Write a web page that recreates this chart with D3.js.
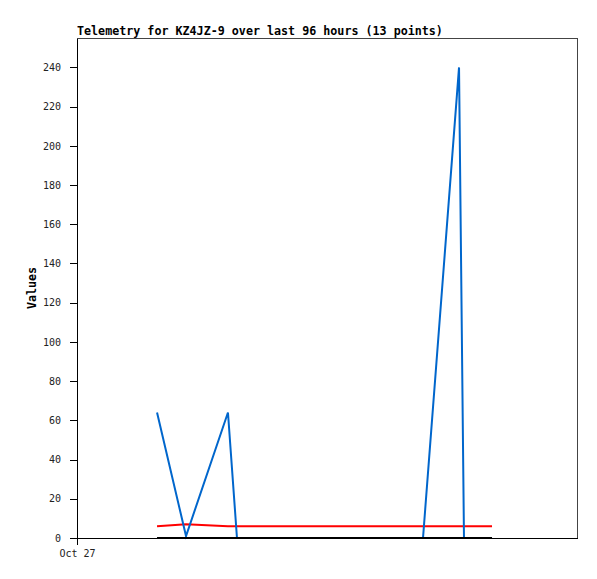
<!DOCTYPE html>
<html>
<head>
<meta charset="utf-8">
<script src="https://cdn.jsdelivr.net/npm/d3@7"></script>
<style>
  html, body { margin: 0; padding: 0; background: #fff; }
  svg { display: block; }
</style>
</head>
<body>
<svg id="chart" width="597" height="579"></svg>
<script>
// ---- data ----
const title = "Telemetry for KZ4JZ-9 over last 96 hours (13 points)";
const yLabel = "Values";
const times = [
  "2023-10-27T15:22", "2023-10-27T20:56", "2023-10-28T04:59", "2023-10-28T06:43",
  "2023-10-28T14:59", "2023-10-29T00:35", "2023-10-29T10:11", "2023-10-29T14:01",
  "2023-10-29T18:26", "2023-10-30T01:21", "2023-10-30T02:18", "2023-10-30T04:59",
  "2023-10-30T07:41"
];
const blueValues  = [64, 1, 64, 0, 0, 0, 0, 0, 0, 240, 0, 0, 0];
const redValues   = [6, 7, 6, 6, 6, 6, 6, 6, 6, 6, 6, 6, 6];
const blackValues = [0, 0, 0, 0, 0, 0, 0, 0, 0, 0, 0, 0, 0];
const yTicks = [0, 20, 40, 60, 80, 100, 120, 140, 160, 180, 200, 220, 240];
const xTickLabels = ["Oct 27"];
const xStart = "2023-10-27T00:00";
const xEnd = "2023-10-31T00:00";
const yMax = 255;

// ---- chart ----
const svg = d3.select("#chart");
const L = 77, T = 38, R = 577, B = 538;
const parse = d3.isoParse;
const dates = times.map(parse);

const x = d3.scaleTime().domain([parse(xStart), parse(xEnd)]).range([L, R]);
const y = d3.scaleLinear().domain([0, yMax]).range([B, T]);

// frame
svg.append("rect")
  .attr("x", L + 0.5).attr("y", T + 0.5)
  .attr("width", R - L).attr("height", B - T)
  .attr("fill", "none").attr("stroke", "#444").attr("stroke-width", 1)
  .attr("shape-rendering", "crispEdges");

// y axis
const yAxis = d3.axisLeft(y).tickValues(yTicks).tickSizeInner(7).tickSizeOuter(0)
  .tickPadding(9).tickFormat(d3.format("d"));
const gy = svg.append("g").attr("transform", `translate(${L},0)`).call(yAxis);
gy.select(".domain").attr("stroke", "#000").attr("shape-rendering", "crispEdges");
gy.selectAll(".tick line").attr("stroke", "#000").attr("shape-rendering", "crispEdges");
gy.selectAll(".tick text")
  .attr("font-family", "'DejaVu Sans Mono', monospace")
  .attr("font-size", "10px").attr("fill", "#222");

// x axis
const xTickDates = xTickLabels.map(() => parse(xStart));
const xAxis = d3.axisBottom(x).tickValues(xTickDates).tickSizeInner(7).tickSizeOuter(0)
  .tickPadding(5).tickFormat((d, i) => xTickLabels[i]);
const gx = svg.append("g").attr("transform", `translate(0,${B})`).call(xAxis);
gx.select(".domain").attr("stroke", "#000").attr("shape-rendering", "crispEdges");
gx.selectAll(".tick line").attr("stroke", "#000").attr("shape-rendering", "crispEdges");
gx.selectAll(".tick text")
  .attr("font-family", "'DejaVu Sans Mono', monospace")
  .attr("font-size", "10px").attr("fill", "#222");

// series
const line = vals => d3.line().x((d, i) => x(dates[i])).y(d => y(d))(vals);
const series = [
  { vals: redValues, color: "#ff0000" },
  { vals: blueValues, color: "#0066cc" },
  { vals: blackValues, color: "#000000" }
];
series.forEach(s => {
  svg.append("path")
    .attr("d", line(s.vals))
    .attr("fill", "none")
    .attr("stroke", s.color)
    .attr("stroke-width", 2)
    .attr("stroke-linejoin", "miter");
});

// title
svg.append("text")
  .attr("x", L).attr("y", 35)
  .attr("font-family", "'DejaVu Sans Mono', monospace")
  .attr("font-weight", "bold")
  .attr("font-size", "11.7px")
  .attr("fill", "#000")
  .text(title);

// y label
svg.append("text")
  .attr("transform", `translate(36,${(T + B) / 2}) rotate(-90)`)
  .attr("text-anchor", "middle")
  .attr("font-family", "'DejaVu Sans Mono', monospace")
  .attr("font-weight", "bold")
  .attr("font-size", "11.7px")
  .attr("fill", "#000")
  .text(yLabel);
</script>
</body>
</html>
